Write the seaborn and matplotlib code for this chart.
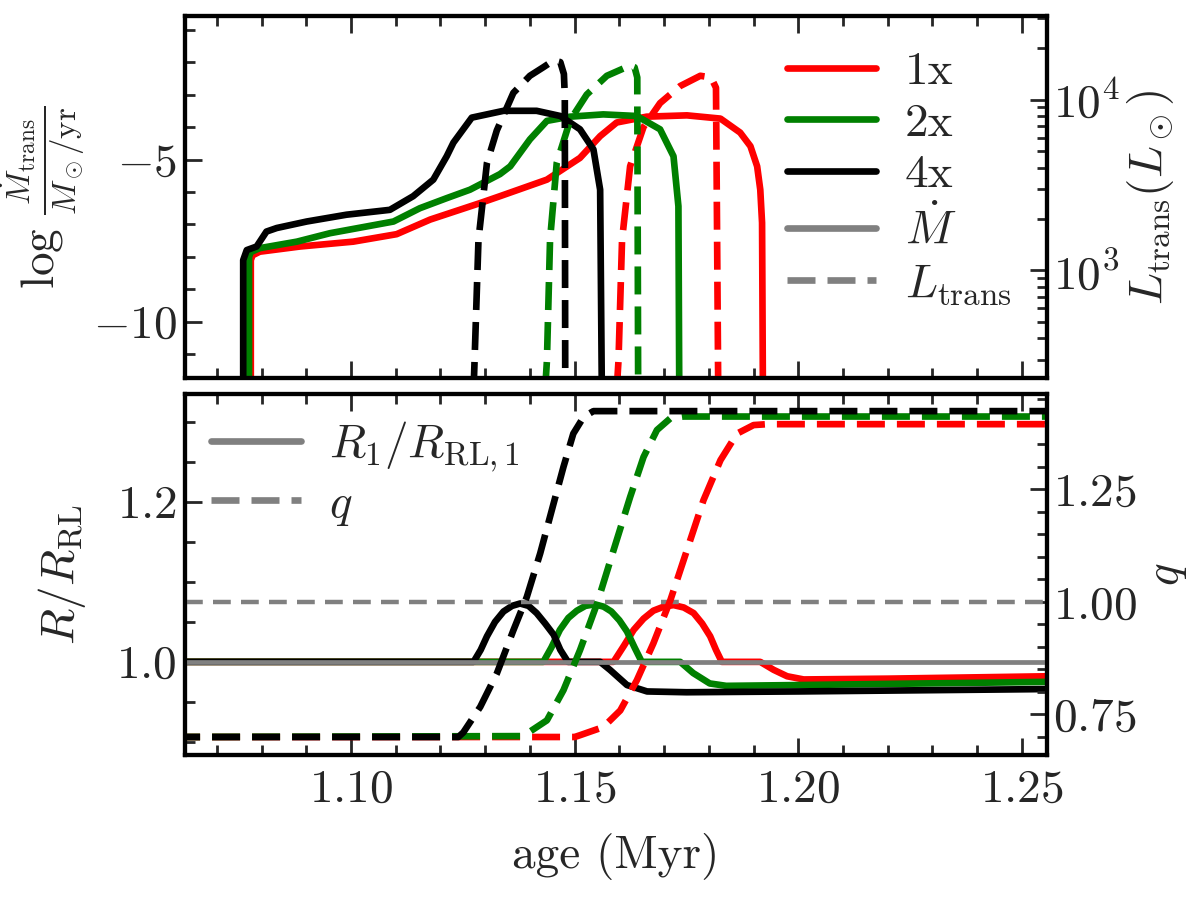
import matplotlib
matplotlib.use("Agg")
import matplotlib.pyplot as plt
from matplotlib.ticker import MultipleLocator
from matplotlib.lines import Line2D
import seaborn as sns

# ---------------- top panel: log Mdot_trans (left axis) ----------------
red_mdot_age = [1.0776, 1.0776, 1.0780, 1.0796, 1.0886, 1.1005, 1.1102, 1.1177, 1.1289, 1.1333,
                1.1438, 1.1512, 1.1557, 1.1594, 1.1661, 1.1751, 1.1826, 1.1870, 1.1893, 1.1908,
                1.1915, 1.1919, 1.1921]
red_mdot = [-12.5, -8.1, -7.95, -7.84, -7.68, -7.53, -7.30, -6.85, -6.34, -6.13,
            -5.62, -4.95, -4.28, -3.86, -3.68, -3.64, -3.74, -4.17, -4.59, -5.21,
            -5.93, -6.95, -12.5]

green_mdot_age = [1.0772, 1.0772, 1.0776, 1.0796, 1.0879, 1.0953, 1.1095, 1.1154, 1.1214, 1.1266,
                  1.1333, 1.1356, 1.1400, 1.1438, 1.1490, 1.1564, 1.1639, 1.1691, 1.1721, 1.1732,
                  1.1734]
green_mdot = [-12.5, -8.0, -7.85, -7.73, -7.53, -7.27, -6.91, -6.50, -6.19, -5.93,
              -5.45, -5.21, -4.38, -3.81, -3.68, -3.61, -3.66, -4.07, -4.90, -6.44,
              -12.5]

black_mdot_age = [1.0759, 1.0759, 1.0767, 1.0789, 1.0811, 1.0834, 1.0901, 1.0990, 1.1087, 1.1139,
                  1.1184, 1.1214, 1.1229, 1.1270, 1.1341, 1.1415, 1.1468, 1.1512, 1.1542, 1.1557,
                  1.1561]
black_mdot = [-12.5, -8.1, -7.79, -7.68, -7.22, -7.11, -6.91, -6.70, -6.55, -6.13,
              -5.62, -4.90, -4.48, -3.71, -3.50, -3.50, -3.66, -4.07, -4.69, -5.93,
              -12.5]

# ---------------- top panel: log10 L_trans / Lsun (right axis) ----------------
red_L_age = [1.1594, 1.1598, 1.1606, 1.1624, 1.1654, 1.1691, 1.1736, 1.1781, 1.1805, 1.1816, 1.1821]
red_logL = [2.30, 2.47, 3.18, 3.61, 3.84, 3.98, 4.08, 4.14, 4.13, 4.07, 2.30]

green_L_age = [1.1434, 1.1438, 1.1445, 1.1460, 1.1490, 1.1527, 1.1572, 1.1624, 1.1634, 1.1640, 1.1642]
green_logL = [2.30, 2.47, 3.18, 3.63, 3.88, 4.03, 4.14, 4.20, 4.19, 4.13, 2.30]

black_L_age = [1.1274, 1.1276, 1.1285, 1.1304, 1.1326, 1.1363, 1.1400, 1.1430, 1.1453, 1.1468,
               1.1476, 1.1478, 1.1479]
black_logL = [2.30, 2.45, 3.18, 3.63, 3.82, 4.04, 4.14, 4.19, 4.23, 4.22,
              4.15, 4.02, 2.30]

# ---------------- bottom panel: R / R_RL (left axis) ----------------
red_r_age = [1.0600, 1.1587, 1.1610, 1.1632, 1.1654, 1.1676, 1.1699, 1.1721, 1.1744, 1.1766,
             1.1785, 1.1803, 1.1816, 1.1829, 1.1915, 1.1945, 1.1975, 1.2012, 1.2200, 1.2560]
red_r = [1.0, 1.0, 1.020, 1.040, 1.054, 1.064, 1.069, 1.071, 1.068, 1.061,
         1.048, 1.032, 1.015, 1.0, 1.0, 0.990, 0.982, 0.978, 0.979, 0.982]

green_r_age = [1.0600, 1.1430, 1.1448, 1.1467, 1.1486, 1.1505, 1.1524, 1.1545, 1.1565, 1.1582,
               1.1600, 1.1617, 1.1634, 1.1650, 1.1736, 1.1765, 1.1802, 1.1839, 1.2000, 1.2560]
green_r = [1.0, 1.0, 1.018, 1.040, 1.055, 1.064, 1.070, 1.072, 1.069, 1.063,
           1.052, 1.038, 1.018, 1.0, 1.0, 0.986, 0.973, 0.970, 0.971, 0.975]

black_r_age = [1.0600, 1.1274, 1.1290, 1.1304, 1.1322, 1.1341, 1.1360, 1.1378, 1.1397, 1.1415,
               1.1434, 1.1453, 1.1468, 1.1485, 1.1557, 1.1579, 1.1617, 1.1662, 1.1750, 1.2000,
               1.2560]
black_r = [1.0, 1.0, 1.015, 1.032, 1.050, 1.063, 1.070, 1.073, 1.070, 1.061,
           1.048, 1.034, 1.015, 1.0, 1.0, 0.990, 0.971, 0.963, 0.962, 0.963,
           0.966]

# ---------------- bottom panel: q (right axis) ----------------
red_q_age = [1.0600, 1.1500, 1.1512, 1.1564, 1.1602, 1.1639, 1.1676, 1.1714, 1.1751, 1.1788,
             1.1826, 1.1863, 1.1900, 1.1930, 1.2560]
red_q = [0.700, 0.700, 0.704, 0.722, 0.759, 0.826, 0.908, 1.004, 1.115, 1.226,
         1.315, 1.374, 1.393, 1.395, 1.395]

green_q_age = [1.0600, 1.1380, 1.1400, 1.1438, 1.1475, 1.1512, 1.1550, 1.1587, 1.1624, 1.1654,
               1.1684, 1.1714, 1.1743, 1.2560]
green_q = [0.700, 0.702, 0.712, 0.737, 0.804, 0.893, 0.996, 1.115, 1.233, 1.322,
           1.382, 1.408, 1.412, 1.412]

black_q_age = [1.0600, 1.1240, 1.1251, 1.1289, 1.1326, 1.1363, 1.1393, 1.1423, 1.1453, 1.1475,
               1.1497, 1.1520, 1.1542, 1.2560]
black_q = [0.700, 0.700, 0.710, 0.767, 0.841, 0.937, 1.011, 1.108, 1.219, 1.300,
           1.374, 1.411, 1.424, 1.424]

runs = ["1x", "2x", "4x"]
colors = {"1x": "red", "2x": "green", "4x": "black"}
mdot = {"1x": (red_mdot_age, red_mdot), "2x": (green_mdot_age, green_mdot),
        "4x": (black_mdot_age, black_mdot)}
ltrans = {"1x": (red_L_age, red_logL), "2x": (green_L_age, green_logL),
          "4x": (black_L_age, black_logL)}
rrl = {"1x": (red_r_age, red_r), "2x": (green_r_age, green_r), "4x": (black_r_age, black_r)}
qq = {"1x": (red_q_age, red_q), "2x": (green_q_age, green_q), "4x": (black_q_age, black_q)}

sns.set_style("ticks")
plt.rcParams.update({
    "font.family": "serif",
    "font.serif": ["cmr10"],
    "mathtext.fontset": "cm",
    "axes.formatter.use_mathtext": True,
    "font.size": 34,
    "axes.linewidth": 3.0,
    "xtick.direction": "in",
    "ytick.direction": "in",
    "xtick.major.size": 12.5,
    "ytick.major.size": 12.5,
    "xtick.minor.size": 7,
    "ytick.minor.size": 7,
    "xtick.major.width": 2.0,
    "ytick.major.width": 2.0,
    "xtick.minor.width": 2.0,
    "ytick.minor.width": 2.0,
    "xtick.major.pad": 10,
    "ytick.major.pad": 6,
    "axes.edgecolor": "black",
})

LW = 4.8
DASH = (4.2, 1.8)

fig = plt.figure(figsize=(12, 9), dpi=100)
ax1 = fig.add_axes([0.1542, 0.580, 0.7183, 0.4022])
ax2 = fig.add_axes([0.1542, 0.1611, 0.7183, 0.4011], sharex=ax1)
ax1t = ax1.twinx()
ax2t = ax2.twinx()

for r in runs:
    a, v = mdot[r]
    sns.lineplot(x=a, y=v, ax=ax1, color=colors[r], lw=LW, estimator=None, sort=False)
    a, v = rrl[r]
    sns.lineplot(x=a, y=v, ax=ax2, color=colors[r], lw=LW, estimator=None, sort=False)

ax1t.set_yscale("log")
for r in runs:
    a, v = ltrans[r]
    sns.lineplot(x=a, y=[10 ** x for x in v], ax=ax1t, color=colors[r], lw=LW,
                 estimator=None, sort=False).lines[-1].set_dashes(DASH)
    a, v = qq[r]
    sns.lineplot(x=a, y=v, ax=ax2t, color=colors[r], lw=LW,
                 estimator=None, sort=False).lines[-1].set_dashes(DASH)

ax2.axhline(1.0, color="gray", lw=3.4, zorder=5)
ax2t.axhline(1.0, color="gray", lw=3.2, dashes=(4.0, 2.3), zorder=1)

# axes limits
ax1.set_xlim(1.0629, 1.2556)
ax1.set_ylim(-11.73, -0.58)
ax1t.set_ylim(10 ** 2.37, 10 ** 4.49)
ax2.set_ylim(0.8835, 1.335)
ax2t.set_ylim(0.660, 1.462)

ax1.xaxis.set_major_locator(MultipleLocator(0.05))
ax1.xaxis.set_minor_locator(MultipleLocator(0.01))
ax1.yaxis.set_major_locator(MultipleLocator(5))
ax1.yaxis.set_minor_locator(MultipleLocator(1))
ax2.yaxis.set_major_locator(MultipleLocator(0.2))
ax2.yaxis.set_minor_locator(MultipleLocator(0.05))
ax2t.yaxis.set_major_locator(MultipleLocator(0.25))
ax2t.yaxis.set_minor_locator(MultipleLocator(0.05))

for ax in (ax1, ax2):
    ax.tick_params(which="both", direction="in", top=True, bottom=True, left=True, right=False)
for ax in (ax1t, ax2t):
    ax.tick_params(which="both", direction="in", right=True, left=False, top=False, bottom=False)
    ax.tick_params(axis="y", which="major", pad=4)
ax1.tick_params(labelbottom=False)
ax1.set_xlabel("")

ax1.set_ylabel(r"$\log\,\frac{\dot{M}_{\rm trans}}{M_\odot/{\rm yr}}$")
ax1t.set_ylabel(r"$L_{\rm trans}(L_\odot)$")
ax2.set_ylabel(r"$R/R_{\rm RL}$", labelpad=20)
ax2t.set_ylabel(r"$q$", labelpad=8)
ax2.set_xlabel("age (Myr)", labelpad=16)

# legends
h_top = [Line2D([], [], color=colors[r], lw=LW, label=r) for r in runs]
h_top.append(Line2D([], [], color="gray", lw=LW, label=r"$\dot{M}$"))
h_top.append(Line2D([], [], color="gray", lw=LW, dashes=DASH, label=r"$L_{\rm trans}$"))
ax1t.legend(handles=h_top, loc="upper right", frameon=False, labelspacing=0.2,
            handlelength=1.9, handletextpad=0.6, borderaxespad=0.35)

h_bot = [Line2D([], [], color="gray", lw=LW, label=r"$R_1/R_{\rm RL,1}$"),
         Line2D([], [], color="gray", lw=LW, dashes=DASH, label=r"$q$")]
ax2t.legend(handles=h_bot, loc="upper left", frameon=False, labelspacing=0.2,
            handlelength=1.9, handletextpad=0.6, borderaxespad=0.15)

fig.savefig("out.png", dpi=100)
